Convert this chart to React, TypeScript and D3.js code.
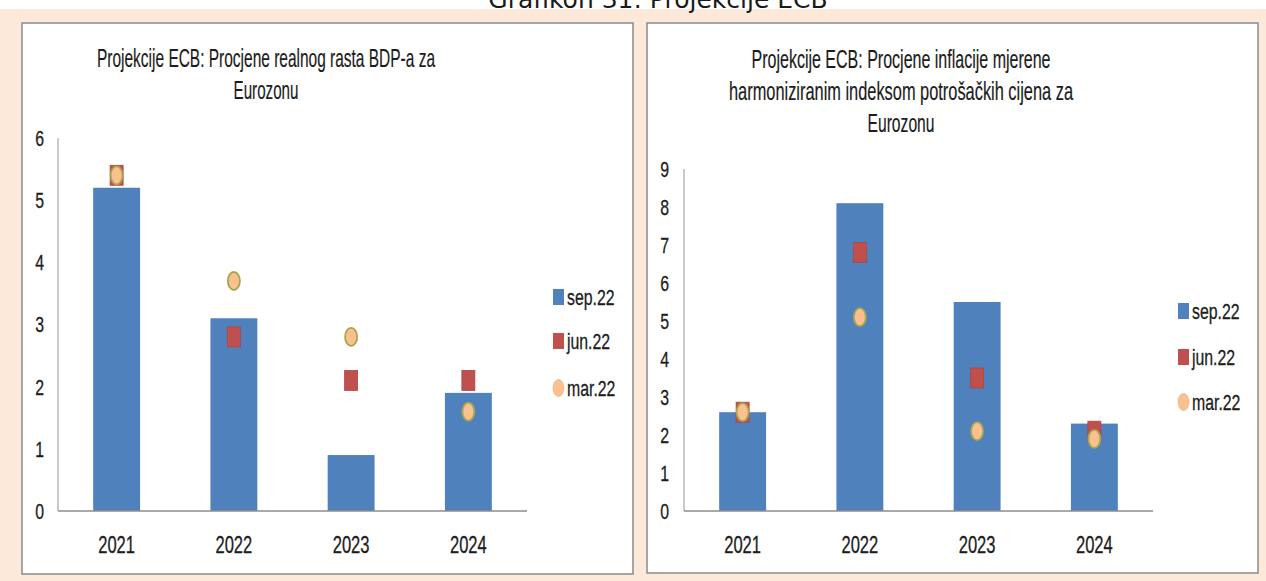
import React from "react";
import * as d3 from "d3";

const categories = ["2021", "2022", "2023", "2024"];
const seriesNames = ["sep.22", "jun.22", "mar.22"];

const gdpSep = [5.2, 3.1, 0.9, 1.9];
const gdpJun = [5.4, 2.8, 2.1, 2.1];
const gdpMar = [5.4, 3.7, 2.8, 1.6];
const gdpTicks = [0, 1, 2, 3, 4, 5, 6];

const hicpSep = [2.6, 8.1, 5.5, 2.3];
const hicpJun = [2.6, 6.8, 3.5, 2.1];
const hicpMar = [2.6, 5.1, 2.1, 1.9];
const hicpTicks = [0, 1, 2, 3, 4, 5, 6, 7, 8, 9];

const headerText = "Grafikon 31: Projekcije ECB";
const gdpTitle = ["Projekcije ECB:  Procjene realnog rasta BDP-a za", "Eurozonu"];
const hicpTitle = [
  "Projekcije ECB:  Procjene inflacije mjerene",
  "harmoniziranim indeksom potrošačkih cijena  za",
  "Eurozonu",
];

const BLUE = "#4F81BD";
const RED = "#C0504D";
const PEACH_FILL = "#FAC090";
const CIRCLE_STROKE = "#A6A64C";
const FONT = "'Liberation Sans', Arial, sans-serif";
const SX = 0.72;
const INK = "#1c1c1c";

function NarrowText(props: {
  x: number;
  y: number;
  anchor?: "start" | "middle" | "end";
  size: number;
  dy?: string;
  children: React.ReactNode;
}) {
  return (
    <g transform={`translate(${props.x},${props.y}) scale(${SX},1)`}>
      <text
        x={0}
        y={0}
        dy={props.dy}
        textAnchor={props.anchor || "start"}
        fontFamily={FONT}
        fontSize={props.size}
        fill={INK}
        stroke={INK}
        strokeWidth={0.3}
      >
        {props.children}
      </text>
    </g>
  );
}

type PanelProps = {
  box: [number, number, number, number];
  axisX: number;
  right: number;
  yZero: number;
  yTop: number;
  ticks: number[];
  sep: number[];
  jun: number[];
  mar: number[];
  title: string[];
  titleX: number;
  titleBaselines: number[];
  titleWidths: number[];
  tickEnd: number;
  legendX: number;
  legendY: number[];
};

function Panel(p: PanelProps) {
  const max = p.ticks[p.ticks.length - 1];
  const y = d3.scaleLinear().domain([0, max]).range([p.yZero, p.yTop]);
  const x = d3
    .scaleBand<string>()
    .domain(categories)
    .range([p.axisX, p.right])
    .paddingInner(0.6)
    .paddingOuter(0.3);
  const bw = x.bandwidth();
  const cx = (c: string) => (x(c) as number) + bw / 2;
  const [bx, by, bwid, bh] = p.box;
  return (
    <g>
      <rect x={bx} y={by} width={bwid} height={bh} fill="#ffffff" stroke="#8a8a8a" strokeWidth={1.5} />
      {p.title.map((t, i) => (
        <text
          key={i}
          x={p.titleX}
          y={p.titleBaselines[i]}
          textAnchor="middle"
          fontFamily={FONT}
          fontSize={26}
          fill={INK}
          stroke={INK}
          strokeWidth={0.2}
          textLength={p.titleWidths[i]}
          lengthAdjust="spacingAndGlyphs"
        >
          {t}
        </text>
      ))}
      {/* bars */}
      {categories.map((c, i) => (
        <rect key={c} x={x(c)} y={y(p.sep[i])} width={bw} height={p.yZero - y(p.sep[i])} fill={BLUE} />
      ))}
      {/* axes */}
      <line x1={p.axisX} x2={p.axisX} y1={p.yTop} y2={p.yZero} stroke="#a6a6a6" strokeWidth={1.2} />
      <line x1={p.axisX} x2={p.right} y1={p.yZero} y2={p.yZero} stroke="#8c8c8c" strokeWidth={1.5} />
      {p.ticks.map((t) => (
        <NarrowText key={t} x={p.tickEnd} y={y(t)} dy="0.36em" anchor="end" size={22}>
          {t}
        </NarrowText>
      ))}
      {categories.map((c) => (
        <NarrowText key={c} x={cx(c)} y={553} anchor="middle" size={23}>
          {c}
        </NarrowText>
      ))}
      {/* jun markers */}
      {categories.map((c, i) => (
        <rect key={c} x={cx(c) - 6.5} y={y(p.jun[i]) - 10} width={13} height={20} fill={RED} stroke="#b04540" strokeWidth={0.8} />
      ))}
      {/* mar markers */}
      {categories.map((c, i) => (
        <ellipse key={c} cx={cx(c)} cy={y(p.mar[i])} rx={6} ry={9} fill={PEACH_FILL} stroke={CIRCLE_STROKE} strokeWidth={1.8} />
      ))}
      {/* legend */}
      {seriesNames.map((s, i) => (
        <g key={s}>
          {i < 2 ? (
            <rect x={p.legendX} y={p.legendY[i] - 8} width={11} height={16} fill={i === 0 ? BLUE : RED} />
          ) : (
            <ellipse cx={p.legendX + 5.5} cy={p.legendY[i]} rx={5.5} ry={8.5} fill={PEACH_FILL} stroke="#e8b888" strokeWidth={0.8} />
          )}
          <NarrowText x={p.legendX + 14} y={p.legendY[i]} dy="0.36em" size={22}>
            {s}
          </NarrowText>
        </g>
      ))}
    </g>
  );
}

export default function App() {
  return (
    <svg
      width={1266}
      height={581}
      style={{ position: "absolute", left: 0, top: 0, display: "block" }}
    >
      <rect x={0} y={0} width={1266} height={581} fill="#ffffff" />
      <rect x={0} y={9} width={1266} height={572} fill="#FDE9D9" />
      <text x={658} y={8} textAnchor="middle" fontFamily="'DejaVu Sans', sans-serif" fontSize={25} fill="#1a1a1a">
        {headerText}
      </text>
      <Panel
        box={[22, 23, 611, 551]}
        axisX={58}
        right={527}
        yZero={511}
        yTop={138}
        ticks={gdpTicks}
        sep={gdpSep}
        jun={gdpJun}
        mar={gdpMar}
        title={gdpTitle}
        titleX={266}
        titleBaselines={[67, 99]}
        titleWidths={[338, 65]}
        tickEnd={44}
        legendX={553}
        legendY={[297, 341, 388]}
      />
      <Panel
        box={[647, 23, 611, 550]}
        axisX={684}
        right={1153}
        yZero={511}
        yTop={169}
        ticks={hicpTicks}
        sep={hicpSep}
        jun={hicpJun}
        mar={hicpMar}
        title={hicpTitle}
        titleX={901}
        titleBaselines={[68, 100, 132]}
        titleWidths={[299, 344, 67]}
        tickEnd={669}
        legendX={1178}
        legendY={[311, 357, 402]}
      />
    </svg>
  );
}
